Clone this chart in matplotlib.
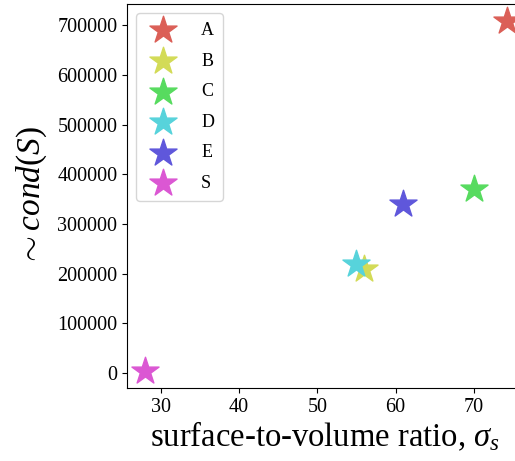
import matplotlib
matplotlib.use('Agg')
import matplotlib.pyplot as plt
import seaborn as sns

plt.rcParams['font.family'] = ['Liberation Serif', 'DejaVu Serif']
plt.rcParams['mathtext.fontset'] = 'custom'
plt.rcParams['mathtext.rm'] = 'Liberation Serif'
plt.rcParams['mathtext.it'] = 'Liberation Serif:italic'

# data
labels = ['A', 'B', 'C', 'D', 'E', 'S']
ratio = [74.3, 56.0, 70.0, 55.0, 61.0, 28.0]
cond = [710000, 210000, 370000, 220000, 340000, 3000]

colors = sns.color_palette('hls', len(labels))

fig = plt.figure(figsize=(5.15, 4.61), dpi=100)
ax = fig.add_axes([0.2466, 0.158, 0.7689, 0.833])

for i, lab in enumerate(labels):
    ax.scatter(ratio[i], cond[i], marker='*', s=420, color=colors[i], label=lab)

ax.set_xlim(25.66, 76.3)
ax.set_ylim(-31000, 743000)
ax.set_xlabel(r'surface-to-volume ratio, $\sigma_s$', fontsize=23.5, labelpad=2)
ax.set_ylabel(r'$\sim cond(S)$', fontsize=24, labelpad=6)
ax.tick_params(labelsize=14.5)
ax.set_xticks([30, 40, 50, 60, 70])
ax.legend(loc='upper left', fontsize=13, labelspacing=0.75, borderpad=0.5,
          handletextpad=1.1)

fig.savefig('out.png', dpi=100)
